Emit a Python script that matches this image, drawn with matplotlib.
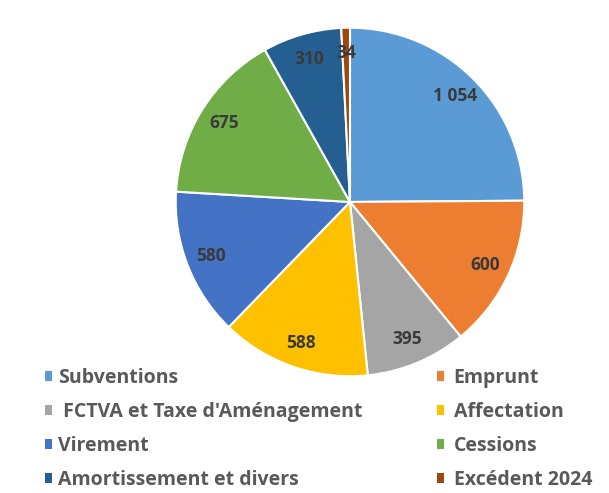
import matplotlib
matplotlib.use("Agg")
import matplotlib.pyplot as plt

categories = [
    "Subventions", "Emprunt", " FCTVA et Taxe d'Aménagement", "Affectation",
    "Virement", "Cessions", "Amortissement et divers", "Excédent 2024",
]
values = [1054, 600, 395, 588, 580, 675, 310, 34]
colors = ["#5B9BD5", "#ED7D31", "#A5A5A5", "#FFC000",
          "#4472C4", "#70AD47", "#255E91", "#9E480E"]

plt.rcParams["font.family"] = ["Open Sans", "DejaVu Sans"]

fig = plt.figure(figsize=(6.09, 4.93), dpi=100)
ax = fig.add_axes([0.2857, 0.2333, 0.578, 0.714])

labels_txt = [f"{v:,}".replace(",", " ") for v in values]
wedges, texts = ax.pie(
    values, colors=colors, startangle=90, counterclock=False,
    labels=labels_txt, labeldistance=0.855,
    wedgeprops=dict(edgecolor="white", linewidth=1.5),
    textprops=dict(color="#3a3a3a", fontsize=12.5, fontweight="bold",
                   ha="center", va="center"),
)
ax.set_xlim(-1.01, 1.01)
ax.set_ylim(-1.01, 1.01)
ax.set_aspect("equal")

# Excel-style legend: two columns, filled row by row
left = [0, 2, 4, 6]
right = [1, 3, 5, 7]
for idx, x0, pad in ((left, 0.074, 0.3), (right, 0.717, 0.5)):
    lg = fig.legend([wedges[i] for i in idx], [categories[i] for i in idx],
                    bbox_to_anchor=(x0, 0.254), frameon=False,
                    handlelength=0.37, handleheight=0.37, handletextpad=pad,
                    labelspacing=0.72, borderpad=0, borderaxespad=0,
                    loc="upper left", labelcolor="#595959",
                    prop=dict(size=14, weight="bold"))
    for h in lg.legend_handles:
        h.set_edgecolor("none")

fig.savefig("out.png", dpi=100)
